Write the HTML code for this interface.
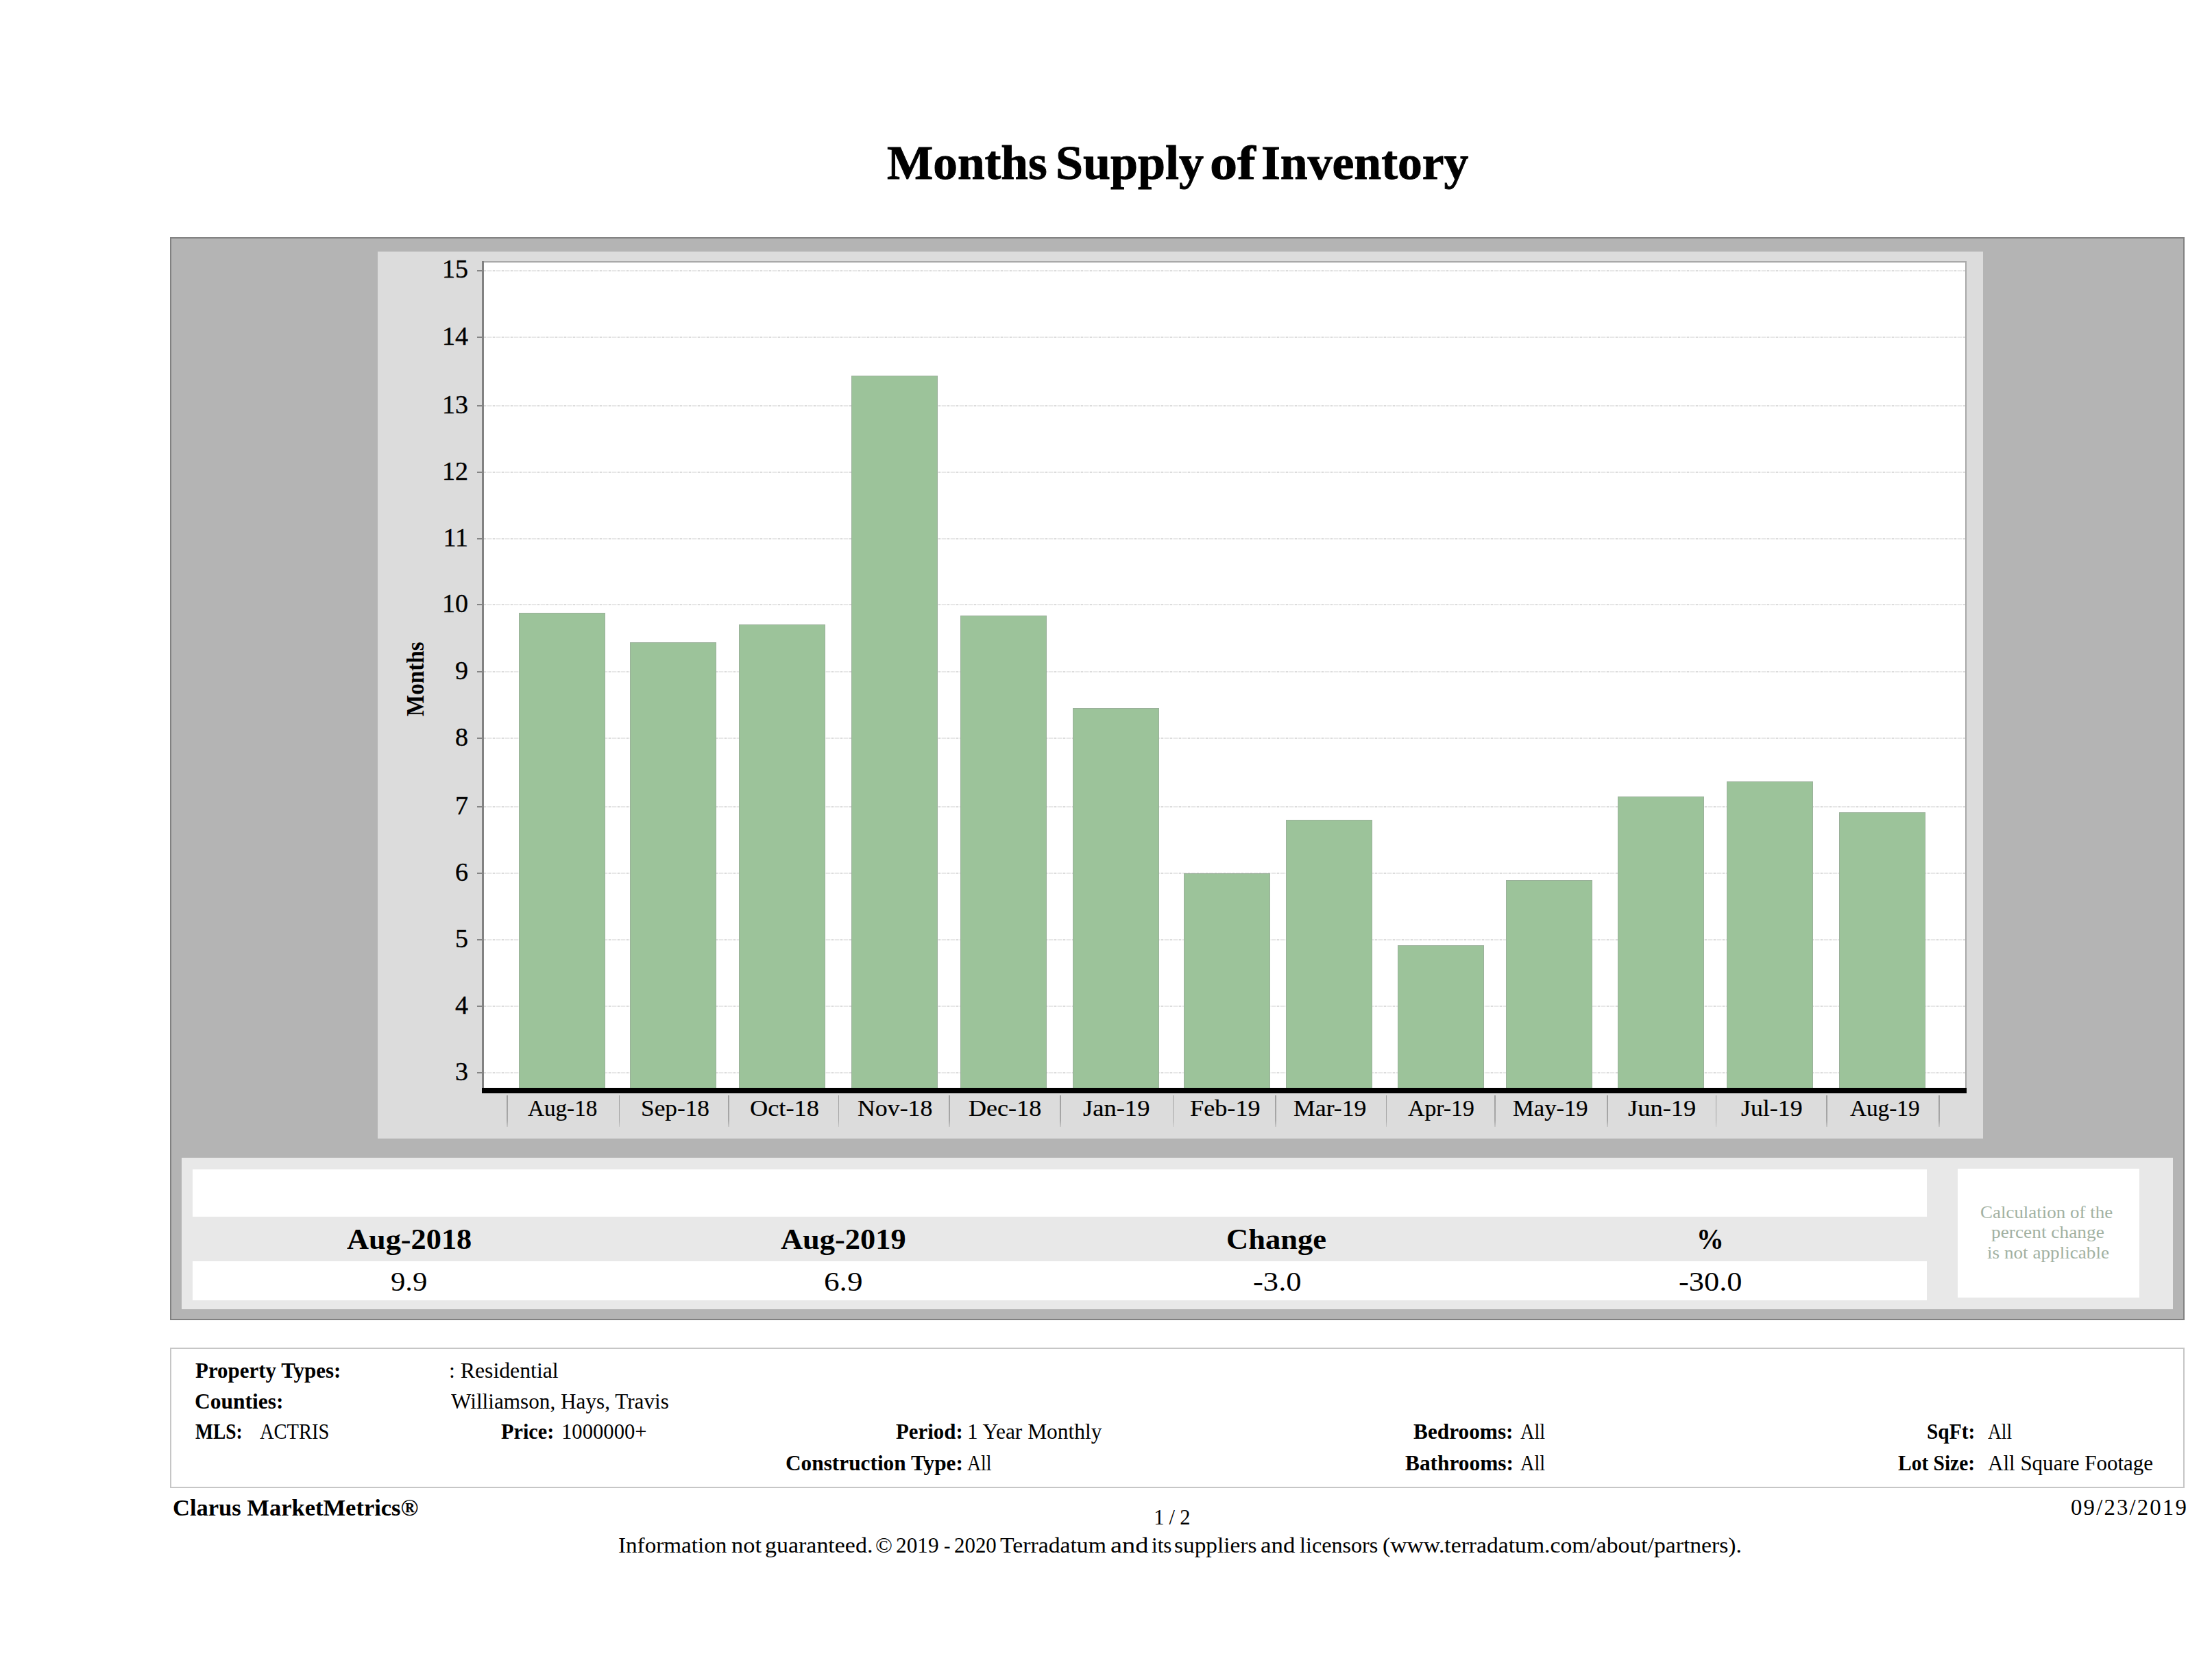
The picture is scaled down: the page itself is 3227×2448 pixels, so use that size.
<!DOCTYPE html>
<html><head><meta charset="utf-8"><style>
html,body{margin:0;padding:0;background:#fff;}
body{width:3227px;height:2448px;position:relative;overflow:hidden;font-family:"Liberation Serif","DejaVu Serif",serif;color:#000;}
.t{position:absolute;white-space:pre;line-height:1;transform-origin:0 0;}
.r{position:absolute;}
</style></head><body>
<div class="r" style="left:248px;top:346px;width:2939px;height:1580px;background:#b4b4b4;box-sizing:border-box;border:2px solid #818181;"></div>
<div class="r" style="left:551px;top:367px;width:2342px;height:1294px;background:#dcdcdc;"></div>
<div class="r" style="left:703px;top:381px;width:2166px;height:1214px;background:#fff;"></div>
<div class="r" style="left:703px;top:381px;width:2166px;height:2px;background:#a9a9a9;"></div>
<div class="r" style="left:2867px;top:381px;width:2px;height:1214px;background:#a9a9a9;"></div>
<div class="r" style="left:706px;top:1564.0px;width:2161px;height:2px;background:repeating-linear-gradient(90deg,#dcdcdc 0 3px,#f6f6f6 3px 5px,#e8e8e8 5px 11px,#f6f6f6 11px 13px);"></div>
<div class="r" style="left:706px;top:1467.2px;width:2161px;height:2px;background:repeating-linear-gradient(90deg,#dcdcdc 0 3px,#f6f6f6 3px 5px,#e8e8e8 5px 11px,#f6f6f6 11px 13px);"></div>
<div class="r" style="left:706px;top:1369.7px;width:2161px;height:2px;background:repeating-linear-gradient(90deg,#dcdcdc 0 3px,#f6f6f6 3px 5px,#e8e8e8 5px 11px,#f6f6f6 11px 13px);"></div>
<div class="r" style="left:706px;top:1273.3px;width:2161px;height:2px;background:repeating-linear-gradient(90deg,#dcdcdc 0 3px,#f6f6f6 3px 5px,#e8e8e8 5px 11px,#f6f6f6 11px 13px);"></div>
<div class="r" style="left:706px;top:1176.0px;width:2161px;height:2px;background:repeating-linear-gradient(90deg,#dcdcdc 0 3px,#f6f6f6 3px 5px,#e8e8e8 5px 11px,#f6f6f6 11px 13px);"></div>
<div class="r" style="left:706px;top:1075.9px;width:2161px;height:2px;background:repeating-linear-gradient(90deg,#dcdcdc 0 3px,#f6f6f6 3px 5px,#e8e8e8 5px 11px,#f6f6f6 11px 13px);"></div>
<div class="r" style="left:706px;top:978.6px;width:2161px;height:2px;background:repeating-linear-gradient(90deg,#dcdcdc 0 3px,#f6f6f6 3px 5px,#e8e8e8 5px 11px,#f6f6f6 11px 13px);"></div>
<div class="r" style="left:706px;top:881.2px;width:2161px;height:2px;background:repeating-linear-gradient(90deg,#dcdcdc 0 3px,#f6f6f6 3px 5px,#e8e8e8 5px 11px,#f6f6f6 11px 13px);"></div>
<div class="r" style="left:706px;top:785.0px;width:2161px;height:2px;background:repeating-linear-gradient(90deg,#dcdcdc 0 3px,#f6f6f6 3px 5px,#e8e8e8 5px 11px,#f6f6f6 11px 13px);"></div>
<div class="r" style="left:706px;top:687.8px;width:2161px;height:2px;background:repeating-linear-gradient(90deg,#dcdcdc 0 3px,#f6f6f6 3px 5px,#e8e8e8 5px 11px,#f6f6f6 11px 13px);"></div>
<div class="r" style="left:706px;top:590.9px;width:2161px;height:2px;background:repeating-linear-gradient(90deg,#dcdcdc 0 3px,#f6f6f6 3px 5px,#e8e8e8 5px 11px,#f6f6f6 11px 13px);"></div>
<div class="r" style="left:706px;top:490.6px;width:2161px;height:2px;background:repeating-linear-gradient(90deg,#dcdcdc 0 3px,#f6f6f6 3px 5px,#e8e8e8 5px 11px,#f6f6f6 11px 13px);"></div>
<div class="r" style="left:706px;top:393.5px;width:2161px;height:2px;background:repeating-linear-gradient(90deg,#dcdcdc 0 3px,#f6f6f6 3px 5px,#e8e8e8 5px 11px,#f6f6f6 11px 13px);"></div>
<div class="r" style="left:757px;top:894.2px;width:126px;height:695.8px;background:#9cc39a;box-shadow:inset -1px 1px 0 #9ab09a,inset 1px 0 0 #9ab09a;"></div>
<div class="r" style="left:919px;top:936.6px;width:126px;height:653.4px;background:#9cc39a;box-shadow:inset -1px 1px 0 #9ab09a,inset 1px 0 0 #9ab09a;"></div>
<div class="r" style="left:1078px;top:911.3px;width:126px;height:678.7px;background:#9cc39a;box-shadow:inset -1px 1px 0 #9ab09a,inset 1px 0 0 #9ab09a;"></div>
<div class="r" style="left:1242px;top:547.6px;width:126px;height:1042.4px;background:#9cc39a;box-shadow:inset -1px 1px 0 #9ab09a,inset 1px 0 0 #9ab09a;"></div>
<div class="r" style="left:1401px;top:897.7px;width:126px;height:692.3px;background:#9cc39a;box-shadow:inset -1px 1px 0 #9ab09a,inset 1px 0 0 #9ab09a;"></div>
<div class="r" style="left:1565px;top:1032.9px;width:126px;height:557.1px;background:#9cc39a;box-shadow:inset -1px 1px 0 #9ab09a,inset 1px 0 0 #9ab09a;"></div>
<div class="r" style="left:1727px;top:1273.6px;width:126px;height:316.4px;background:#9cc39a;box-shadow:inset -1px 1px 0 #9ab09a,inset 1px 0 0 #9ab09a;"></div>
<div class="r" style="left:1876px;top:1195.5px;width:126px;height:394.5px;background:#9cc39a;box-shadow:inset -1px 1px 0 #9ab09a,inset 1px 0 0 #9ab09a;"></div>
<div class="r" style="left:2039px;top:1379.4px;width:126px;height:210.6px;background:#9cc39a;box-shadow:inset -1px 1px 0 #9ab09a,inset 1px 0 0 #9ab09a;"></div>
<div class="r" style="left:2197px;top:1283.5px;width:126px;height:306.5px;background:#9cc39a;box-shadow:inset -1px 1px 0 #9ab09a,inset 1px 0 0 #9ab09a;"></div>
<div class="r" style="left:2360px;top:1161.5px;width:126px;height:428.5px;background:#9cc39a;box-shadow:inset -1px 1px 0 #9ab09a,inset 1px 0 0 #9ab09a;"></div>
<div class="r" style="left:2519px;top:1140.3px;width:126px;height:449.7px;background:#9cc39a;box-shadow:inset -1px 1px 0 #9ab09a,inset 1px 0 0 #9ab09a;"></div>
<div class="r" style="left:2683px;top:1185.0px;width:126px;height:405.0px;background:#9cc39a;box-shadow:inset -1px 1px 0 #9ab09a,inset 1px 0 0 #9ab09a;"></div>
<div class="r" style="left:703px;top:381px;width:3px;height:1214px;background:#828282;"></div>
<div class="r" style="left:696px;top:1564.0px;width:8px;height:2px;background:#858585;"></div>
<div class="r" style="left:696px;top:1467.2px;width:8px;height:2px;background:#858585;"></div>
<div class="r" style="left:696px;top:1369.7px;width:8px;height:2px;background:#858585;"></div>
<div class="r" style="left:696px;top:1273.3px;width:8px;height:2px;background:#858585;"></div>
<div class="r" style="left:696px;top:1176.0px;width:8px;height:2px;background:#858585;"></div>
<div class="r" style="left:696px;top:1075.9px;width:8px;height:2px;background:#858585;"></div>
<div class="r" style="left:696px;top:978.6px;width:8px;height:2px;background:#858585;"></div>
<div class="r" style="left:696px;top:881.2px;width:8px;height:2px;background:#858585;"></div>
<div class="r" style="left:696px;top:785.0px;width:8px;height:2px;background:#858585;"></div>
<div class="r" style="left:696px;top:687.8px;width:8px;height:2px;background:#858585;"></div>
<div class="r" style="left:696px;top:590.9px;width:8px;height:2px;background:#858585;"></div>
<div class="r" style="left:696px;top:490.6px;width:8px;height:2px;background:#858585;"></div>
<div class="r" style="left:696px;top:393.5px;width:8px;height:2px;background:#858585;"></div>
<div class="r" style="left:703px;top:1587px;width:2166px;height:8px;background:#000;"></div>
<div class="r" style="left:739.2px;top:1598px;width:1.6px;height:46px;background:linear-gradient(#a0a0a0,#a8a8a8 80%,#c8c8c8);"></div>
<div class="r" style="left:902.7px;top:1598px;width:1.6px;height:46px;background:linear-gradient(#a0a0a0,#a8a8a8 80%,#c8c8c8);"></div>
<div class="r" style="left:1062.2px;top:1598px;width:1.6px;height:46px;background:linear-gradient(#a0a0a0,#a8a8a8 80%,#c8c8c8);"></div>
<div class="r" style="left:1222.9px;top:1598px;width:1.6px;height:46px;background:linear-gradient(#a0a0a0,#a8a8a8 80%,#c8c8c8);"></div>
<div class="r" style="left:1384.2px;top:1598px;width:1.6px;height:46px;background:linear-gradient(#a0a0a0,#a8a8a8 80%,#c8c8c8);"></div>
<div class="r" style="left:1546.2px;top:1598px;width:1.6px;height:46px;background:linear-gradient(#a0a0a0,#a8a8a8 80%,#c8c8c8);"></div>
<div class="r" style="left:1710.8px;top:1598px;width:1.6px;height:46px;background:linear-gradient(#a0a0a0,#a8a8a8 80%,#c8c8c8);"></div>
<div class="r" style="left:1860.2px;top:1598px;width:1.6px;height:46px;background:linear-gradient(#a0a0a0,#a8a8a8 80%,#c8c8c8);"></div>
<div class="r" style="left:2021.7px;top:1598px;width:1.6px;height:46px;background:linear-gradient(#a0a0a0,#a8a8a8 80%,#c8c8c8);"></div>
<div class="r" style="left:2180.0px;top:1598px;width:1.6px;height:46px;background:linear-gradient(#a0a0a0,#a8a8a8 80%,#c8c8c8);"></div>
<div class="r" style="left:2344.2px;top:1598px;width:1.6px;height:46px;background:linear-gradient(#a0a0a0,#a8a8a8 80%,#c8c8c8);"></div>
<div class="r" style="left:2502.7px;top:1598px;width:1.6px;height:46px;background:linear-gradient(#a0a0a0,#a8a8a8 80%,#c8c8c8);"></div>
<div class="r" style="left:2664.2px;top:1598px;width:1.6px;height:46px;background:linear-gradient(#a0a0a0,#a8a8a8 80%,#c8c8c8);"></div>
<div class="r" style="left:2828.2px;top:1598px;width:1.6px;height:46px;background:linear-gradient(#a0a0a0,#a8a8a8 80%,#c8c8c8);"></div>
<div class="r" style="left:265px;top:1689px;width:2905px;height:221px;background:#e8e8e8;"></div>
<div class="r" style="left:281px;top:1705.5px;width:2530px;height:69.5px;background:#fff;"></div>
<div class="r" style="left:281px;top:1840px;width:2530px;height:57px;background:#fff;"></div>
<div class="r" style="left:2856px;top:1705px;width:265px;height:188px;background:#fff;"></div>
<div class="r" style="left:248px;top:1966px;width:2939px;height:205px;box-sizing:border-box;border:2px solid #c6c6c6;"></div>
<div class="t" style="left:1293.57px;top:203.38px;font-size:70px;font-weight:700;transform:scaleX(1.0181);-webkit-text-stroke:0.9px #000;">Months</div>
<div class="t" style="left:1539.70px;top:203.38px;font-size:70px;font-weight:700;transform:scaleX(1.0282);-webkit-text-stroke:0.9px #000;">Supply</div>
<div class="t" style="left:1765.19px;top:203.38px;font-size:70px;font-weight:700;transform:scaleX(1.1464);-webkit-text-stroke:0.9px #000;">of</div>
<div class="t" style="left:1840.45px;top:203.38px;font-size:70px;font-weight:700;transform:scaleX(1.0232);-webkit-text-stroke:0.9px #000;">Inventory</div>
<div class="t" style="left:769.97px;top:1599.54px;font-size:33.5px;transform:scaleX(0.9897);-webkit-text-stroke:0.2px #000;">Aug-18</div>
<div class="t" style="left:934.53px;top:1599.54px;font-size:33.5px;transform:scaleX(1.0536);-webkit-text-stroke:0.2px #000;">Sep-18</div>
<div class="t" style="left:1094.15px;top:1599.54px;font-size:33.5px;transform:scaleX(1.0846);-webkit-text-stroke:0.2px #000;">Oct-18</div>
<div class="t" style="left:1250.93px;top:1599.54px;font-size:33.5px;transform:scaleX(1.0682);-webkit-text-stroke:0.2px #000;">Nov-18</div>
<div class="t" style="left:1412.92px;top:1599.54px;font-size:33.5px;transform:scaleX(1.0775);-webkit-text-stroke:0.2px #000;">Dec-18</div>
<div class="t" style="left:1580.27px;top:1599.54px;font-size:33.5px;transform:scaleX(1.0907);-webkit-text-stroke:0.2px #000;">Jan-19</div>
<div class="t" style="left:1735.91px;top:1599.54px;font-size:33.5px;transform:scaleX(1.0815);-webkit-text-stroke:0.2px #000;">Feb-19</div>
<div class="t" style="left:1886.93px;top:1599.54px;font-size:33.5px;transform:scaleX(1.0668);-webkit-text-stroke:0.2px #000;">Mar-19</div>
<div class="t" style="left:2054.46px;top:1599.54px;font-size:33.5px;transform:scaleX(1.0077);-webkit-text-stroke:0.2px #000;">Apr-19</div>
<div class="t" style="left:2206.96px;top:1599.54px;font-size:33.5px;transform:scaleX(1.0337);-webkit-text-stroke:0.2px #000;">May-19</div>
<div class="t" style="left:2375.27px;top:1599.54px;font-size:33.5px;transform:scaleX(1.0885);-webkit-text-stroke:0.2px #000;">Jun-19</div>
<div class="t" style="left:2539.88px;top:1599.54px;font-size:33.5px;transform:scaleX(1.0692);-webkit-text-stroke:0.2px #000;">Jul-19</div>
<div class="t" style="left:2699.37px;top:1599.54px;font-size:33.5px;transform:scaleX(0.9920);-webkit-text-stroke:0.2px #000;">Aug-19</div>
<div class="t" style="left:505.86px;top:1786.92px;font-size:42px;font-weight:700;transform:scaleX(1.0553);">Aug-2018</div>
<div class="t" style="left:1138.76px;top:1786.92px;font-size:42px;font-weight:700;transform:scaleX(1.0577);">Aug-2019</div>
<div class="t" style="left:1788.77px;top:1786.92px;font-size:42px;font-weight:700;transform:scaleX(1.0603);">Change</div>
<div class="t" style="left:2475.42px;top:1786.92px;font-size:42px;font-weight:700;transform:scaleX(0.9465);">%</div>
<div class="t" style="left:570.32px;top:1849.55px;font-size:40.3px;transform:scaleX(1.0598);">9.9</div>
<div class="t" style="left:1201.59px;top:1849.55px;font-size:40.3px;transform:scaleX(1.1219);">6.9</div>
<div class="t" style="left:1827.82px;top:1849.55px;font-size:40.3px;transform:scaleX(1.1067);">-3.0</div>
<div class="t" style="left:2449.12px;top:1849.55px;font-size:40.3px;transform:scaleX(1.1017);">-30.0</div>
<div class="t" style="left:2889.42px;top:1755.94px;font-size:25.5px;transform:scaleX(1.0570);color:#a2b1a2;">Calculation of the</div>
<div class="t" style="left:2905.15px;top:1785.44px;font-size:25.5px;transform:scaleX(1.0727);color:#a2b1a2;">percent change</div>
<div class="t" style="left:2899.46px;top:1814.84px;font-size:25.5px;transform:scaleX(1.0655);color:#a2b1a2;">is not applicable</div>
<div class="t" style="left:285.28px;top:1983.08px;font-size:32.5px;font-weight:700;transform:scaleX(0.9518);">Property Types:</div>
<div class="t" style="left:655.46px;top:1983.08px;font-size:32.5px;transform:scaleX(0.9774);">: Residential</div>
<div class="t" style="left:284.43px;top:2027.78px;font-size:32.5px;font-weight:700;transform:scaleX(0.9688);">Counties:</div>
<div class="t" style="left:658.00px;top:2027.78px;font-size:32.5px;transform:scaleX(0.9604);">Williamson, Hays, Travis</div>
<div class="t" style="left:285.45px;top:2072.48px;font-size:32.5px;font-weight:700;transform:scaleX(0.8445);">MLS:</div>
<div class="t" style="left:378.51px;top:2072.48px;font-size:32.5px;transform:scaleX(0.8771);">ACTRIS</div>
<div class="t" style="left:731.19px;top:2072.48px;font-size:32.5px;font-weight:700;transform:scaleX(0.9319);">Price:</div>
<div class="t" style="left:818.54px;top:2072.48px;font-size:32.5px;transform:scaleX(0.9434);">1000000+</div>
<div class="t" style="left:1307.18px;top:2072.48px;font-size:32.5px;font-weight:700;transform:scaleX(0.9492);">Period:</div>
<div class="t" style="left:1410.77px;top:2072.48px;font-size:32.5px;transform:scaleX(0.9670);">1 Year Monthly</div>
<div class="t" style="left:2062.37px;top:2072.48px;font-size:32.5px;font-weight:700;transform:scaleX(0.9631);">Bedrooms:</div>
<div class="t" style="left:2218.32px;top:2072.48px;font-size:32.5px;transform:scaleX(0.8689);">All</div>
<div class="t" style="left:2810.73px;top:2072.48px;font-size:32.5px;font-weight:700;transform:scaleX(0.9053);">SqFt:</div>
<div class="t" style="left:2900.32px;top:2072.48px;font-size:32.5px;transform:scaleX(0.8468);">All</div>
<div class="t" style="left:1146.13px;top:2117.68px;font-size:32.5px;font-weight:700;transform:scaleX(0.9632);">Construction Type:</div>
<div class="t" style="left:1410.62px;top:2117.68px;font-size:32.5px;transform:scaleX(0.8542);">All</div>
<div class="t" style="left:2049.87px;top:2117.68px;font-size:32.5px;font-weight:700;transform:scaleX(0.9649);">Bathrooms:</div>
<div class="t" style="left:2218.32px;top:2117.68px;font-size:32.5px;transform:scaleX(0.8689);">All</div>
<div class="t" style="left:2768.81px;top:2117.68px;font-size:32.5px;font-weight:700;transform:scaleX(0.9064);">Lot Size:</div>
<div class="t" style="left:2900.29px;top:2117.68px;font-size:32.5px;transform:scaleX(0.9541);">All Square Footage</div>
<div class="t" style="left:251.67px;top:2181.89px;font-size:34.4px;font-weight:700;transform:scaleX(1.0036);">Clarus MarketMetrics®</div>
<div class="t" style="left:1683.16px;top:2198.66px;font-size:30.5px;letter-spacing:7.167px;">1/2</div>
<div class="t" style="left:3021.09px;top:2183.23px;font-size:32.8px;letter-spacing:2.143px;">09/23/2019</div>
<div class="t" style="left:902.27px;top:2238.62px;font-size:31.5px;transform:scaleX(1.0526);">Information</div>
<div class="t" style="left:1066.91px;top:2238.62px;font-size:31.5px;transform:scaleX(1.0921);">not</div>
<div class="t" style="left:1115.54px;top:2238.62px;font-size:31.5px;transform:scaleX(1.0778);">guaranteed.</div>
<div class="t" style="left:1276.79px;top:2238.62px;font-size:31.5px;transform:scaleX(1.0411);">©</div>
<div class="t" style="left:1306.55px;top:2238.62px;font-size:31.5px;transform:scaleX(0.9921);">2019</div>
<div class="t" style="left:1377.06px;top:2238.62px;font-size:31.5px;transform:scaleX(0.9035);">-</div>
<div class="t" style="left:1391.76px;top:2238.62px;font-size:31.5px;transform:scaleX(0.9805);">2020</div>
<div class="t" style="left:1459.13px;top:2238.62px;font-size:31.5px;transform:scaleX(1.0707);">Terradatum</div>
<div class="t" style="left:1619.85px;top:2238.62px;font-size:31.5px;transform:scaleX(1.2200);">and</div>
<div class="t" style="left:1679.68px;top:2238.62px;font-size:31.5px;transform:scaleX(0.9916);">its</div>
<div class="t" style="left:1713.27px;top:2238.62px;font-size:31.5px;transform:scaleX(1.0582);">suppliers</div>
<div class="t" style="left:1839.25px;top:2238.62px;font-size:31.5px;transform:scaleX(1.1066);">and</div>
<div class="t" style="left:1896.06px;top:2238.62px;font-size:31.5px;transform:scaleX(1.0213);">licensors</div>
<div class="t" style="left:2016.85px;top:2238.62px;font-size:31.5px;transform:scaleX(1.0684);">(www.terradatum.com/about/partners).</div>
<div class="t" style="left:560px;width:123px;text-align:right;top:1543.97px;font-size:38px;-webkit-text-stroke:0.4px #000;">3</div>
<div class="t" style="left:560px;width:123px;text-align:right;top:1447.17px;font-size:38px;-webkit-text-stroke:0.4px #000;">4</div>
<div class="t" style="left:560px;width:123px;text-align:right;top:1349.67px;font-size:38px;-webkit-text-stroke:0.4px #000;">5</div>
<div class="t" style="left:560px;width:123px;text-align:right;top:1253.27px;font-size:38px;-webkit-text-stroke:0.4px #000;">6</div>
<div class="t" style="left:560px;width:123px;text-align:right;top:1155.97px;font-size:38px;-webkit-text-stroke:0.4px #000;">7</div>
<div class="t" style="left:560px;width:123px;text-align:right;top:1055.88px;font-size:38px;-webkit-text-stroke:0.4px #000;">8</div>
<div class="t" style="left:560px;width:123px;text-align:right;top:958.57px;font-size:38px;-webkit-text-stroke:0.4px #000;">9</div>
<div class="t" style="left:560px;width:123px;text-align:right;top:861.17px;font-size:38px;-webkit-text-stroke:0.4px #000;">10</div>
<div class="t" style="left:560px;width:123px;text-align:right;top:764.97px;font-size:38px;-webkit-text-stroke:0.4px #000;">11</div>
<div class="t" style="left:560px;width:123px;text-align:right;top:667.77px;font-size:38px;-webkit-text-stroke:0.4px #000;">12</div>
<div class="t" style="left:560px;width:123px;text-align:right;top:570.87px;font-size:38px;-webkit-text-stroke:0.4px #000;">13</div>
<div class="t" style="left:560px;width:123px;text-align:right;top:470.58px;font-size:38px;-webkit-text-stroke:0.4px #000;">14</div>
<div class="t" style="left:560px;width:123px;text-align:right;top:373.48px;font-size:38px;-webkit-text-stroke:0.4px #000;">15</div>
<div class="t" style="left:589.29px;top:1045.16px;font-size:35px;font-weight:700;transform:rotate(-90deg) scaleX(0.9465);">Months</div>
</body></html>
